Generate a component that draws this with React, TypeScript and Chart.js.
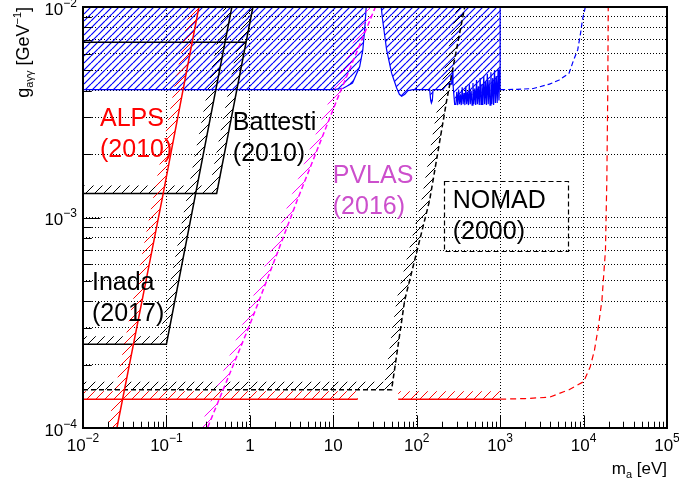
import React, { useEffect, useRef } from 'react';
import { Chart, registerables } from 'chart.js';
Chart.register(...registerables);

// ---------------- axes ----------------
const xMin = 1e-2, xMax = 1e5, yMin = 1e-4, yMax = 1e-2;
const xTickValues = [1e-2, 1e-1, 1, 10, 1e2, 1e3, 1e4, 1e5];
const xTickBase = ['10', '10', '1', '10', '10', '10', '10', '10'];
const xTickExp = ['\u22122', '\u22121', '', '', '2', '3', '4', '5'];
const yTickValues = [1e-4, 1e-3, 1e-2];
const yTickBase = ['10', '10', '10'];
const yTickExp = ['\u22124', '\u22123', '\u22122'];

// ---------------- blue excluded region (hatched to top) ----------------
const blueM = [0.01, 10, 13, 17, 20.7, 22.6, 23.9, 24.8, 25.5, 35, 37.5, 39, 43.6, 50, 57.5, 62, 66, 72, 78, 90,
  143, 147, 150, 154, 157, 205, 220, 235, 262, 268, 272, 285];
const blueG = [4.05e-3, 4.05e-3, 4.1e-3, 4.35e-3, 5.2e-3, 6.25e-3, 8.0e-3, 1.0e-2, 1.3e-2, 1.3e-2, 1.0e-2, 8.7e-3, 6.25e-3, 4.85e-3, 4.12e-3, 3.85e-3, 3.77e-3, 3.85e-3, 4.0e-3, 4.05e-3,
  4.05e-3, 3.6e-3, 3.5e-3, 3.6e-3, 4.05e-3, 4.05e-3, 4.2e-3, 4.3e-3, 4.3e-3, 4.9e-3, 4.3e-3, 3.45e-3];
const blueNoiseM = [295, 302, 310, 318, 326, 334, 342, 351, 360, 369, 378, 387, 397, 407, 417, 428, 438, 449, 461, 472,
  484, 496, 509, 521, 534, 548, 562, 576, 590, 605, 620, 636, 652, 668, 685, 702, 720, 738, 756, 775,
  795, 815, 835, 856, 877, 899, 922, 945, 968, 990, 1000, 1000];
const blueNoiseG = [3.45e-3, 3.95e-3, 3.42e-3, 4.05e-3, 3.45e-3, 3.85e-3, 3.42e-3, 4.15e-3, 3.45e-3, 3.9e-3,
  3.42e-3, 4.2e-3, 3.45e-3, 3.95e-3, 3.42e-3, 4.3e-3, 3.45e-3, 4.0e-3, 3.42e-3, 4.35e-3,
  3.45e-3, 4.1e-3, 3.42e-3, 4.5e-3, 3.45e-3, 4.2e-3, 3.42e-3, 4.6e-3, 3.45e-3, 4.3e-3,
  3.42e-3, 4.7e-3, 3.45e-3, 4.4e-3, 3.42e-3, 4.8e-3, 3.45e-3, 4.5e-3, 3.42e-3, 4.9e-3,
  3.45e-3, 4.6e-3, 3.42e-3, 5.0e-3, 3.5e-3, 4.7e-3, 3.5e-3, 5.05e-3, 3.6e-3, 4.9e-3, 4.05e-3, 1.3e-2];
const blueExtM = [1000, 1600, 2500, 3900, 5100, 6700, 7600, 8500, 9200, 9700, 10500, 11000];
const blueExtG = [4.05e-3, 4.06e-3, 4.1e-3, 4.3e-3, 4.5e-3, 4.85e-3, 5.6e-3, 6.25e-3, 7.5e-3, 8.7e-3, 1.0e-2, 1.2e-2];

// ---------------- ALPS (red) ----------------
const alpsM = [0.0235, 0.0255, 0.0883, 0.245, 0.265];
const alpsG = [8.45e-5, 1.0e-4, 1.21e-3, 1.0e-2, 1.17e-2];
const redFloorAM = [0.01, 19.6];
const redFloorAG = [1.37e-4, 1.37e-4];
const redFloorBM = [60, 1000];
const redFloorBG = [1.37e-4, 1.37e-4];
const redDashM = [1000, 2000, 3900, 6700, 10000, 12000, 13500, 15000, 16600, 18300, 19000, 19500, 19800];
const redDashG = [1.37e-4, 1.38e-4, 1.40e-4, 1.52e-4, 1.66e-4, 1.95e-4, 2.34e-4, 3.0e-4, 4.05e-4, 7.0e-4, 1.5e-3, 4.0e-3, 1.2e-2];

// ---------------- Inada / Battesti (black) ----------------
const inadaM = [0.01, 0.1, 0.66];
const inadaG = [2.5e-4, 2.5e-4, 1.18e-2];
const battM = [0.01, 0.4, 1.2];
const battG = [1.3e-3, 1.3e-3, 1.22e-2];
const battTopM = [0.01, 0.9];
const battTopG = [6.8e-3, 6.8e-3];

// ---------------- low black dashed bound ----------------
const lowM = [0.01, 50, 71.8, 143, 229, 376, 410];
const lowG = [1.52e-4, 1.52e-4, 4.05e-4, 1.21e-3, 3.61e-3, 1.0e-2, 1.2e-2];

// ---------------- PVLAS (magenta) ----------------
const pvM = [0.29, 0.31, 1, 2.2, 3.7, 11, 32, 36];
const pvG = [9.3e-5, 1.0e-4, 3.1e-4, 7.0e-4, 1.21e-3, 3.6e-3, 1.0e-2, 1.15e-2];

// ---------------- annotations ----------------
const annotText = [['ALPS', '(2010)'], ['Battesti', '(2010)'], ['PVLAS', '(2016)'], ['NOMAD', '(2000)'], ['Inada', '(2017)']];
const annotM = [0.016, 0.6255, 9.86, 270, 0.0128];
const annotG = [2.72e-3, 2.604e-3, 1.459e-3, 1.104e-3, 4.52e-4];
const annotColor = ['#ff0000', '#000000', '#cc4fcc', '#000000', '#000000'];
const nomadBoxM = [210, 6430];
const nomadBoxG = [6.93e-4, 1.49e-3];

const FONT = '"Liberation Sans", Arial, Helvetica, sans-serif';

function zip(m: number[], g: number[]) {
  return m.map((v, i) => ({ x: v, y: g[i] }));
}

function makeHatchCanvas(color: string, w: number, h: number, lw: number) {
  const t = document.createElement('canvas');
  t.width = w; t.height = h;
  const g = t.getContext('2d')!;
  g.strokeStyle = color; g.lineWidth = lw;
  g.beginPath();
  for (const o of [-w, 0, w]) { g.moveTo(o, h); g.lineTo(o + w, 0); }
  g.stroke();
  return t;
}

function offsetPolyline(pts: { x: number; y: number }[], w: number) {
  const n = pts.length;
  const out: { x: number; y: number }[] = [];
  const segN = (a: any, b: any) => {
    const dx = b.x - a.x, dy = b.y - a.y;
    const L = Math.hypot(dx, dy) || 1;
    return [dy / L, -dx / L];
  };
  for (let i = 0; i < n; i++) {
    const n1 = i > 0 ? segN(pts[i - 1], pts[i]) : null;
    const n2 = i < n - 1 ? segN(pts[i], pts[i + 1]) : null;
    if (n1 && n2) {
      let mx = n1[0] + n2[0], my = n1[1] + n2[1];
      const ml = Math.hypot(mx, my);
      if (ml < 1e-6) { mx = n1[0]; my = n1[1]; } else { mx /= ml; my /= ml; }
      const c = mx * n1[0] + my * n1[1];
      const s = w / Math.max(c, 0.3);
      out.push({ x: pts[i].x + mx * s, y: pts[i].y + my * s });
    } else {
      const nn = (n1 || n2)!;
      out.push({ x: pts[i].x + nn[0] * w, y: pts[i].y + nn[1] * w });
    }
  }
  return out;
}

const hatchPlugin = {
  id: 'hatchBands',
  beforeDatasetDraw(chart: any, args: any) {
    const ds = chart.data.datasets[args.index];
    if (!ds.hatch && !ds.topFill) return;
    const ctx: CanvasRenderingContext2D = chart.ctx;
    const a = chart.chartArea;
    const pts = args.meta.data.map((p: any) => ({ x: p.x, y: p.y }));
    const spec = ds.hatch || ds.topFill;
    const pattern = ctx.createPattern(spec.tile, 'repeat')!;
    ctx.save();
    ctx.beginPath();
    ctx.rect(a.left, a.top, a.right - a.left, a.bottom - a.top);
    ctx.clip();
    ctx.beginPath();
    pts.forEach((p: any, i: number) => (i ? ctx.lineTo(p.x, p.y) : ctx.moveTo(p.x, p.y)));
    if (ds.hatch) {
      const off = offsetPolyline(pts, ds.hatch.width);
      for (let i = off.length - 1; i >= 0; i--) ctx.lineTo(off[i].x, off[i].y);
    } else {
      ctx.lineTo(pts[pts.length - 1].x, a.top - 5);
      ctx.lineTo(pts[0].x, a.top - 5);
    }
    ctx.closePath();
    ctx.fillStyle = pattern;
    ctx.fill();
    ctx.restore();
  },
};

function drawSegments(ctx: CanvasRenderingContext2D, segs: { t: string; size: number; dy: number }[], xRight: number, y: number) {
  let total = 0;
  for (const s of segs) {
    ctx.font = `${s.size}px ${FONT}`;
    total += ctx.measureText(s.t).width;
  }
  let x = xRight - total;
  for (const s of segs) {
    ctx.font = `${s.size}px ${FONT}`;
    ctx.fillText(s.t, x, y + s.dy);
    x += ctx.measureText(s.t).width;
  }
}

function drawPow(ctx: CanvasRenderingContext2D, base: string, exp: string, x: number, y: number, align: 'center' | 'right', raise: number) {
  const bf = `17px ${FONT}`, ef = `12px ${FONT}`;
  ctx.font = bf;
  const wb = ctx.measureText(base).width;
  ctx.font = ef;
  const we = exp ? ctx.measureText(exp).width : 0;
  const total = wb + we;
  const x0 = align === 'center' ? x - total / 2 : x - total;
  ctx.font = bf;
  ctx.fillText(base, x0, y);
  if (exp) {
    ctx.font = ef;
    ctx.fillText(exp, x0 + wb, y - raise);
  }
}

const axesPlugin = {
  id: 'rootAxes',
  afterDraw(chart: any) {
    const ctx: CanvasRenderingContext2D = chart.ctx;
    const a = chart.chartArea;
    const xs = chart.scales.x, ys = chart.scales.y;
    ctx.save();
    ctx.fillStyle = '#000';
    ctx.strokeStyle = '#000';
    ctx.textAlign = 'left';
    ctx.textBaseline = 'alphabetic';

    // ticks
    ctx.lineWidth = 1;
    ctx.beginPath();
    for (let e = -2; e <= 5; e++) {
      for (let k = 1; k <= 9; k++) {
        const v = k * Math.pow(10, e);
        if (v > xMax * 1.0001) break;
        const px = Math.round(xs.getPixelForValue(v)) + 0.5;
        const len = k === 1 ? 12.6 : 6.3;
        ctx.moveTo(px, a.bottom);
        ctx.lineTo(px, a.bottom - len);
      }
    }
    for (let e = -4; e <= -2; e++) {
      for (let k = 1; k <= 9; k++) {
        const v = k * Math.pow(10, e);
        if (v > yMax * 1.0001) break;
        const py = Math.round(ys.getPixelForValue(v)) + 0.5;
        const len = k === 1 ? 17.5 : 8.8;
        ctx.moveTo(a.left, py);
        ctx.lineTo(a.left + len, py);
      }
    }
    ctx.stroke();

    // frame
    ctx.lineWidth = 2;
    ctx.strokeRect(a.left, a.top, a.right - a.left, a.bottom - a.top);

    // tick labels
    xTickValues.forEach((v, i) => {
      drawPow(ctx, xTickBase[i], xTickExp[i], xs.getPixelForValue(v), a.bottom + 23, 'center', 9);
    });
    yTickValues.forEach((v, i) => {
      drawPow(ctx, yTickBase[i], yTickExp[i], a.left - 6, ys.getPixelForValue(v) + 7.5, 'right', 8);
    });

    // axis titles
    drawSegments(ctx, [
      { t: 'm', size: 17, dy: 0 },
      { t: 'a', size: 11, dy: 4 },
      { t: ' [eV]', size: 17, dy: 0 },
    ], a.right, 474);
    ctx.save();
    ctx.translate(29, a.top);
    ctx.rotate(-Math.PI / 2);
    drawSegments(ctx, [
      { t: 'g', size: 18, dy: 0 },
      { t: 'a\u03b3\u03b3', size: 11, dy: 4 },
      { t: ' [GeV', size: 18, dy: 0 },
      { t: '\u22121', size: 11, dy: -8 },
      { t: ']', size: 18, dy: 0 },
    ], 0, 0);
    ctx.restore();

    // NOMAD box
    const bx0 = xs.getPixelForValue(nomadBoxM[0]), bx1 = xs.getPixelForValue(nomadBoxM[1]);
    const by0 = ys.getPixelForValue(nomadBoxG[1]), by1 = ys.getPixelForValue(nomadBoxG[0]);
    ctx.lineWidth = 1.2;
    ctx.setLineDash([5, 3]);
    ctx.strokeRect(Math.round(bx0) + 0.5, Math.round(by0) + 0.5, Math.round(bx1 - bx0), Math.round(by1 - by0));
    ctx.setLineDash([]);

    // annotation texts
    ctx.font = `25px ${FONT}`;
    annotText.forEach((lines, i) => {
      const px = xs.getPixelForValue(annotM[i]);
      const py = ys.getPixelForValue(annotG[i]);
      ctx.fillStyle = annotColor[i];
      lines.forEach((t, j) => ctx.fillText(t, px, py + j * 31));
    });
    ctx.restore();
  },
};

export default function App() {
  const ref = useRef<HTMLCanvasElement>(null);
  useEffect(() => {
    const canvas = ref.current!;
    const blueTile = makeHatchCanvas('#0000ff', 7, 7, 1.2);
    const blackTile = makeHatchCanvas('#000000', 9, 9, 1);
    const redTile = makeHatchCanvas('#ff0000', 9, 9, 1);
    const magTile = makeHatchCanvas('#ff00ff', 9, 9, 1);

    const base = { fill: false, pointRadius: 0, pointHoverRadius: 0, pointHitRadius: 0, tension: 0 };
    const datasets: any[] = [
      { ...base, label: 'blue', data: zip(blueM.concat(blueNoiseM), blueG.concat(blueNoiseG)), borderColor: '#0000ff', borderWidth: 1.2, order: 10, topFill: { tile: blueTile } },
      { ...base, label: 'blueExt', data: zip(blueExtM, blueExtG), borderColor: '#0000ff', borderWidth: 1.2, borderDash: [5, 3], order: 9 },
      { ...base, label: 'lowBound', data: zip(lowM, lowG), borderColor: '#000000', borderWidth: 1.5, borderDash: [5, 3], order: 8, hatch: { width: 8, tile: blackTile } },
      { ...base, label: 'Battesti', data: zip(battM, battG), borderColor: '#000000', borderWidth: 1.5, order: 7, hatch: { width: 8, tile: blackTile } },
      { ...base, label: 'BattestiTop', data: zip(battTopM, battTopG), borderColor: '#000000', borderWidth: 1.5, order: 7 },
      { ...base, label: 'Inada', data: zip(inadaM, inadaG), borderColor: '#000000', borderWidth: 1.5, order: 6, hatch: { width: 8, tile: blackTile } },
      { ...base, label: 'PVLAS', data: zip(pvM, pvG), borderColor: '#ff00ff', borderWidth: 1.5, borderDash: [5, 3], order: 5, hatch: { width: 7, tile: magTile } },
      { ...base, label: 'redFloorA', data: zip(redFloorAM, redFloorAG), borderColor: '#ff0000', borderWidth: 1.5, order: 4, hatch: { width: 8, tile: redTile } },
      { ...base, label: 'redFloorB', data: zip(redFloorBM, redFloorBG), borderColor: '#ff0000', borderWidth: 1.5, order: 4, hatch: { width: 8, tile: redTile } },
      { ...base, label: 'redDash', data: zip(redDashM, redDashG), borderColor: '#ff0000', borderWidth: 1.2, borderDash: [6, 4], order: 4 },
      { ...base, label: 'ALPS', data: zip(alpsM, alpsG), borderColor: '#ff0000', borderWidth: 1.5, order: 3, hatch: { width: 9, tile: redTile } },
    ];

    const xGrid = xTickValues.slice();
    const yGrid: number[] = [];
    for (let e = -4; e <= -2; e++) for (let k = 1; k <= 9; k++) { const v = k * Math.pow(10, e); if (v <= yMax * 1.0001) yGrid.push(v); }

    const chart = new Chart(canvas, {
      type: 'line',
      data: { datasets },
      options: {
        responsive: false,
        animation: false,
        events: [],
        layout: { padding: { left: 83, top: 7, right: 12, bottom: 59 } },
        plugins: { legend: { display: false }, tooltip: { enabled: false } },
        scales: {
          x: {
            type: 'logarithmic', min: xMin, max: xMax,
            ticks: { display: false },
            grid: { color: '#000000', lineWidth: 1, drawTicks: false },
            border: { display: false, dash: [1, 2] },
            afterBuildTicks: (s: any) => { s.ticks = xGrid.map((v) => ({ value: v })); },
            afterFit: (s: any) => { s.height = 0; },
          },
          y: {
            type: 'logarithmic', min: yMin, max: yMax,
            ticks: { display: false },
            grid: { color: '#000000', lineWidth: 1, drawTicks: false },
            border: { display: false, dash: [1, 2] },
            afterBuildTicks: (s: any) => { s.ticks = yGrid.map((v) => ({ value: v })); },
            afterFit: (s: any) => { s.width = 0; },
          },
        },
      } as any,
      plugins: [hatchPlugin, axesPlugin],
    });
    return () => chart.destroy();
  }, []);
  return (
    <div style={{ position: 'fixed', left: 0, top: 0, width: 679, height: 487, background: '#ffffff' }}>
      <canvas ref={ref} width={679} height={487} style={{ display: 'block' }} />
    </div>
  );
}
